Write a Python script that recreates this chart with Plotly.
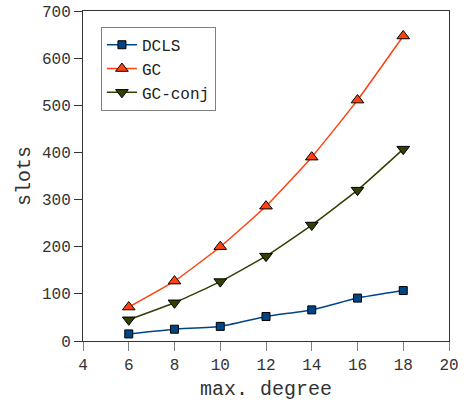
import plotly.graph_objects as go

degree = [6, 8, 10, 12, 14, 16, 18]
dcls = [15, 25, 31, 52, 66, 91, 107]
gc = [72, 127, 200, 286, 390, 511, 647]
gc_conj = [45, 81, 126, 180, 246, 320, 407]

FONT = "Liberation Mono, Courier New, monospace"

fig = go.Figure()
series = [
    ("DCLS", dcls, "#004586", "square", 8),
    ("GC", gc, "#ff420e", "triangle-up", 11),
    ("GC-conj", gc_conj, "#314004", "triangle-down", 11),
]
for name, ys, col, sym, sz in series:
    fig.add_trace(go.Scatter(
        x=degree, y=ys, name=name, mode="lines+markers",
        line=dict(color=col, width=1.5, shape="spline", smoothing=0.4),
        marker=dict(symbol=sym, size=sz, color=col, line=dict(color="black", width=1)),
    ))

fig.update_layout(
    width=464, height=404,
    margin=dict(l=83, r=15, t=11, b=63),
    paper_bgcolor="white", plot_bgcolor="white",
    font=dict(family=FONT, size=16, color="#333333"),
    showlegend=True,
    legend=dict(x=0.049, y=0.952, xanchor="left", yanchor="top",
                bordercolor="#808080", borderwidth=1, bgcolor="white",
                font=dict(family=FONT, size=16, color="#222222"),
                itemwidth=30, tracegroupgap=0),
    xaxis=dict(range=[4, 20], tickvals=[4, 6, 8, 10, 12, 14, 16, 18, 20],
               automargin=False,
               showgrid=False, zeroline=False, showline=True, linecolor="#333333",
               linewidth=1, mirror=True, ticks="outside", ticklen=9, tickcolor="#808080",
               title=dict(text="max. degree", font=dict(family=FONT, size=20, color="#333333"), standoff=6)),
    yaxis=dict(range=[0, 700], tickvals=[0, 100, 200, 300, 400, 500, 600, 700],
               automargin=False,
               showgrid=False, zeroline=False, showline=True, linecolor="#333333",
               linewidth=1, mirror=True, ticks="outside", ticklen=8, tickcolor="#333333",
               title=dict(text="slots", font=dict(family=FONT, size=20, color="#333333"), standoff=5)),
)

fig.write_html("out.html", config={"displayModeBar": False},
               post_script="document.body.style.margin='0';document.body.style.overflow='hidden';")
